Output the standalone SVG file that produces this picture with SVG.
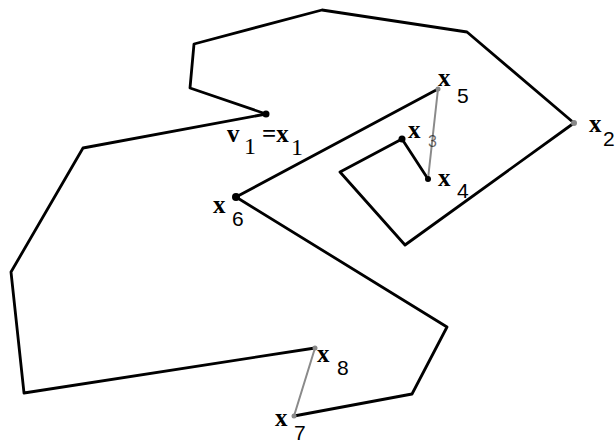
<svg xmlns="http://www.w3.org/2000/svg" width="616" height="443" viewBox="0 0 616 443">
<style>
.e{fill:none;stroke:#000;stroke-width:2.8;stroke-linejoin:round;stroke-linecap:round}
.g{fill:none;stroke:#8a8a8a;stroke-width:2;stroke-linecap:round}
.x{font-family:"Liberation Serif",serif;font-weight:bold;font-size:25px;fill:#000}
.d{font-family:"Liberation Sans",sans-serif;font-size:21px;fill:#000}
.s{font-family:"Liberation Serif",serif;font-size:24px;fill:#000}
.dot{fill:#000}
.gd{fill:#888}
</style>
<rect width="616" height="443" fill="#fff"/>
<g id="connectors">
<polyline class="e" points="428,179 402,139 340,172 405,245 574,123 467,32 322,10 194,44 190,88 266,114 83,148 11,272 24,393 315,348"/>
<polyline class="e" points="294,416 412,394 447,327 236,197 438,89"/>
<line class="g" x1="428" y1="179" x2="438" y2="89"/>
<line class="g" x1="294" y1="416" x2="315" y2="348"/>
</g>
<g id="x1"><circle class="dot" cx="266" cy="114" r="3.5"/><text class="x" x="227" y="142">v</text><text class="s" x="244" y="154">1</text><text class="x" x="262" y="142">=x</text><text class="s" x="291" y="155">1</text></g>
<g id="x2"><circle class="gd" cx="574" cy="123" r="3"/><text class="x" x="589" y="132">x</text><text class="d" x="603" y="146">2</text></g>
<g id="x3"><circle class="dot" cx="402" cy="139" r="3.5"/><text class="x" x="408" y="138">x</text><text class="d" x="428" y="147" style="font-size:16px" fill-opacity="0.6">3</text></g>
<g id="x4"><circle class="dot" cx="428" cy="179" r="3"/><text class="x" x="438" y="186">x</text><text class="d" x="457" y="198">4</text></g>
<g id="x5"><circle class="gd" cx="438" cy="89" r="2.5"/><text class="x" x="438" y="86">x</text><text class="d" x="457" y="103">5</text></g>
<g id="x6"><circle class="dot" cx="236" cy="197" r="4"/><text class="x" x="213" y="213">x</text><text class="d" x="232" y="226">6</text></g>
<g id="x7"><circle class="gd" cx="294" cy="416" r="2.5"/><text class="x" x="275" y="426">x</text><text class="d" x="294" y="440">7</text></g>
<g id="x8"><circle class="gd" cx="315" cy="348" r="2.5"/><text class="x" x="317" y="362">x</text><text class="d" x="337" y="375">8</text></g>
</svg>
